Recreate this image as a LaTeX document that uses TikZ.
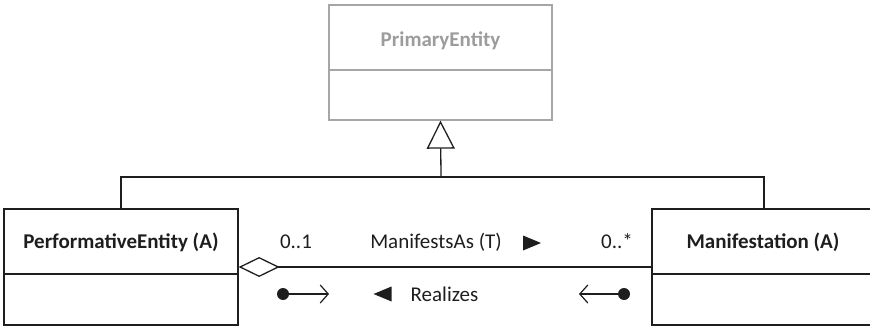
\documentclass[tikz,border=0pt]{standalone}
\usepackage{fontspec}
\setmainfont{Carlito}
\usetikzlibrary{arrows.meta,shapes.geometric}
\definecolor{ink}{HTML}{1E1E1E}
\definecolor{faded}{HTML}{A6A6A6}
\definecolor{fadedtext}{HTML}{9C9C9C}
\tikzset{
  classbox/.style={draw=ink, line width=1.3pt, minimum width=234pt, minimum height=116pt, inner sep=0pt},
  abstractbox/.style={draw=faded, line width=1.3pt, minimum width=223pt, minimum height=115pt, inner sep=0pt},
  classname/.style={font=\fontsize{21}{25}\selectfont\bfseries, text=ink, inner sep=0pt, anchor=base},
  lbl/.style={font=\fontsize{21}{25}\selectfont, text=ink, inner sep=0pt, anchor=base},
  pointer/.style={isosceles triangle, isosceles triangle stretches, fill=ink, draw=none,
    minimum height=18pt, minimum width=15pt, inner sep=0pt},
  wire/.style={draw=ink, line width=1.3pt},
  dot/.style={circle, fill=ink, minimum size=12pt, inner sep=0pt},
}
\begin{document}
\begin{tikzpicture}[x=1pt,y=-1pt]
\useasboundingbox (0,0) rectangle (870,326);
\clip (0,0) rectangle (870,326);

% abstract parent class
\node[abstractbox] (prim) at (440.5,62.5) {};
\node[classname, text=fadedtext] (primname) at (440.5,47) {PrimaryEntity};
\draw[faded, line width=1.3pt] (prim.west |- 0,70) -- (prim.east |- 0,70);

% concrete classes
\node[classbox] (perf) at (121,267) {};
\node[classname] (perfname) at (121,248) {PerformativeEntity (A)};
\draw[wire] (perf.west |- 0,274) -- (perf.east |- 0,274);

\node[classbox] (manif) at (769,267) {};
\node[classname] (manifname) at (763,248) {Manifestation (A)};
\draw[wire] (manif.west |- 0,274) -- (manif.east |- 0,274);

% generalization tree
\coordinate (hub) at (441,177);
\coordinate (rtop) at (764,209);
\draw[wire, -{Triangle[open, length=28pt, width=28pt, line width=1.3pt]}] (hub) -- (prim.south);
\draw[wire] (perf.north) -- (perf.north |- hub) -- (rtop |- hub) -- (rtop);

% aggregation
\draw[wire, {Diamond[open, length=41pt, width=20pt, line width=1.3pt]}-] (perf.east) -- (manif.west);

% association labels
\node[lbl] (m1) at (296,248) {0..1};
\node[lbl] (rel) at (436,248) {ManifestsAs (T)};
\node[pointer, shape border rotate=0] (fwd) at (528,243) {};
\node[lbl] (m2) at (617,248) {0..*};

% reading directions
\node[dot] (d1) at (283,294) {};
\coordinate (a1) at (329,294);
\draw[wire, line width=1.2pt, -{Straight Barb[length=8pt, width=18pt, line width=1.2pt]}] (d1) -- (a1);

\node[pointer, shape border rotate=180] (bwd) at (386.5,294) {};
\node[lbl] (inv) at (444.5,301) {Realizes};

\node[dot] (d2) at (624,294) {};
\coordinate (a2) at (579,294);
\draw[wire, line width=1.2pt, -{Straight Barb[length=8pt, width=18pt, line width=1.2pt]}] (d2) -- (a2);
\end{tikzpicture}
\end{document}
